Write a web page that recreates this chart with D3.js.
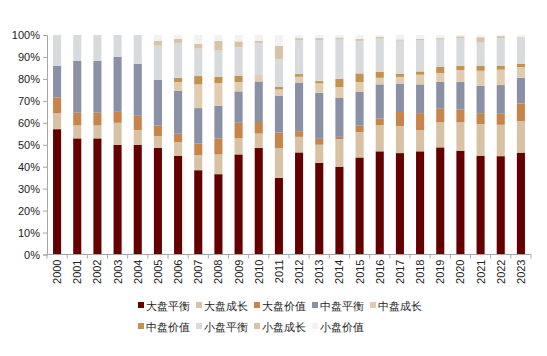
<!DOCTYPE html>
<html><head><meta charset="utf-8">
<script src="https://cdn.jsdelivr.net/npm/d3@7"></script>
<style>
body{margin:0;background:#fff;}
svg{display:block;}
text{font-family:"Liberation Sans",Arial,sans-serif;}
</style></head>
<body><svg id="c" width="547" height="356"></svg>
<script>
const years = ["2000","2001","2002","2003","2004","2005","2006","2007","2008","2009","2010","2011","2012","2013","2014","2015","2016","2017","2018","2019","2020","2021","2022","2023"];
const seriesNames = ["大盘平衡","大盘成长","大盘价值","中盘平衡","中盘成长","中盘价值","小盘平衡","小盘成长","小盘价值"];
const largeBalance = [57.1,52.9,52.9,50.0,50.0,48.6,45.0,38.4,36.6,45.6,48.6,34.9,46.5,41.8,40.0,44.2,47.0,46.2,47.0,48.8,47.3,45.0,44.8,46.4];
const largeGrowth  = [7.2,5.9,5.9,10.0,6.7,5.4,6.1,6.9,9.0,7.3,6.6,13.6,7.1,8.2,12.6,11.6,12.0,12.3,9.7,11.4,12.9,14.4,14.3,14.4];
const largeValue   = [7.3,5.8,5.8,5.0,6.5,4.8,3.9,5.3,7.3,7.1,5.3,7.1,2.6,2.7,1.0,2.9,2.9,6.4,7.7,6.2,5.9,5.0,5.0,8.0];
const midBalance   = [14.3,23.7,23.7,25.1,23.7,20.7,19.6,16.1,14.9,14.3,18.5,16.6,22.1,21.0,17.7,15.5,15.6,12.8,13.1,12.2,12.6,12.5,13.1,11.7];
const midGrowth    = [0,0,0,0,0,0,4.0,10.8,10.3,4.3,2.6,3.0,2.7,4.3,5.0,4.4,3.0,3.2,4.4,4.1,5.3,6.8,7.0,4.9];
const midValue     = [0,0,0,0,0,0,1.9,3.8,2.8,2.9,0.2,1.1,1.2,1.0,3.8,3.9,2.8,1.5,1.5,2.9,2.0,2.2,1.7,1.5];
const smallBalance = [14.1,11.7,11.7,9.9,13.1,15.6,15.9,12.5,12.0,12.9,14.8,12.6,15.5,18.7,17.8,14.8,15.0,15.0,14.3,12.3,12.5,10.9,12.7,12.0];
const smallGrowth  = [0,0,0,0,0,2.3,1.8,2.1,4.4,2.7,1.0,6.1,0.9,0.9,1.0,0.9,0.9,0.6,0.6,0.7,0.9,2.2,0.9,0.3];
const smallValue   = [0,0,0,0,0,2.6,1.8,4.1,2.7,2.9,2.6,5.0,1.4,1.4,1.1,1.8,0.8,2.0,1.7,1.4,0.6,1.0,0.5,0.8];
const yTicks = [0,10,20,30,40,50,60,70,80,90,100];
const colors = ["#640000","#d8c2a4","#c8854a","#8a90a6","#e1ccaf","#c29250","#d9dadc","#d9c3a6","#f2f2f2"];

const seriesValues = [largeBalance,largeGrowth,largeValue,midBalance,midGrowth,midValue,smallBalance,smallGrowth,smallValue];
const rows = years.map((y,i)=>{
  const r={year:y};
  seriesNames.forEach((s,k)=>r[s]=seriesValues[k][i]);
  return r;
});
const stack = d3.stack().keys(seriesNames).offset(d3.stackOffsetExpand)(rows);

const svg = d3.select("#c");
const m = {left:47, right:16, top:35, bottom:102};
const W = 547, H = 356;
const x = d3.scaleBand().domain(years).range([m.left, W-m.right]).paddingInner(0.6).paddingOuter(0.3);
const y = d3.scaleLinear().domain([0,1]).range([254.5, 35]);
const color = d3.scaleOrdinal().domain(seriesNames).range(colors);

svg.append("g").selectAll("g").data(stack).join("g")
  .attr("fill", d=>color(d.key))
  .selectAll("rect").data(d=>d).join("rect")
  .attr("x", d=>x(d.data.year))
  .attr("width", x.bandwidth())
  .attr("y", d=>y(d[1]))
  .attr("height", d=>Math.max(0, y(d[0])-y(d[1])));

// Y axis
const yAxis = svg.append("g").attr("transform",`translate(${m.left},0)`)
  .call(d3.axisLeft(y).tickValues(yTicks.map(v=>v/100)).tickFormat(d=>Math.round(d*100)+"%").tickSize(4).tickPadding(3));
yAxis.select(".domain").attr("stroke","#a6a6a6");
yAxis.selectAll(".tick line").attr("stroke","#a6a6a6");
yAxis.selectAll("text").attr("font-size","11px").attr("fill","#222");

// X axis
const xAxisG = svg.append("g").attr("transform",`translate(0,254.5)`);
xAxisG.append("line").attr("x1",m.left).attr("x2",W-m.right).attr("stroke","#a6a6a6");
const bounds = d3.range(years.length+1).map(i=>m.left + i*(W-m.left-m.right)/years.length);
xAxisG.selectAll("line.t").data(bounds).join("line").attr("class","t")
  .attr("x1",d=>d).attr("x2",d=>d).attr("y1",0).attr("y2",4).attr("stroke","#a6a6a6");
xAxisG.selectAll("text").data(years).join("text")
  .attr("transform",d=>`translate(${x(d)+x.bandwidth()/2+4},5) rotate(-90)`)
  .attr("text-anchor","end")
  .attr("font-size","11px").attr("fill","#222")
  .text(d=>d);

// Legend
const legendRows = [seriesNames.slice(0,5), seriesNames.slice(5)];
const lg = svg.append("g");
legendRows.forEach((row,ri)=>{
  let cx = 138;
  const cy = 306 + ri*21;
  row.forEach(name=>{
    lg.append("rect").attr("x",cx).attr("y",cy-4).attr("width",6).attr("height",6).attr("fill",color(name));
    const t = lg.append("text").attr("x",cx+8).attr("y",cy+4).attr("font-size","11px").attr("fill","#222")
      .attr("font-family","'Noto Sans CJK SC',sans-serif").text(name);
    cx += 8 + t.node().getComputedTextLength() + 6;
  });
});
</script></body></html>
